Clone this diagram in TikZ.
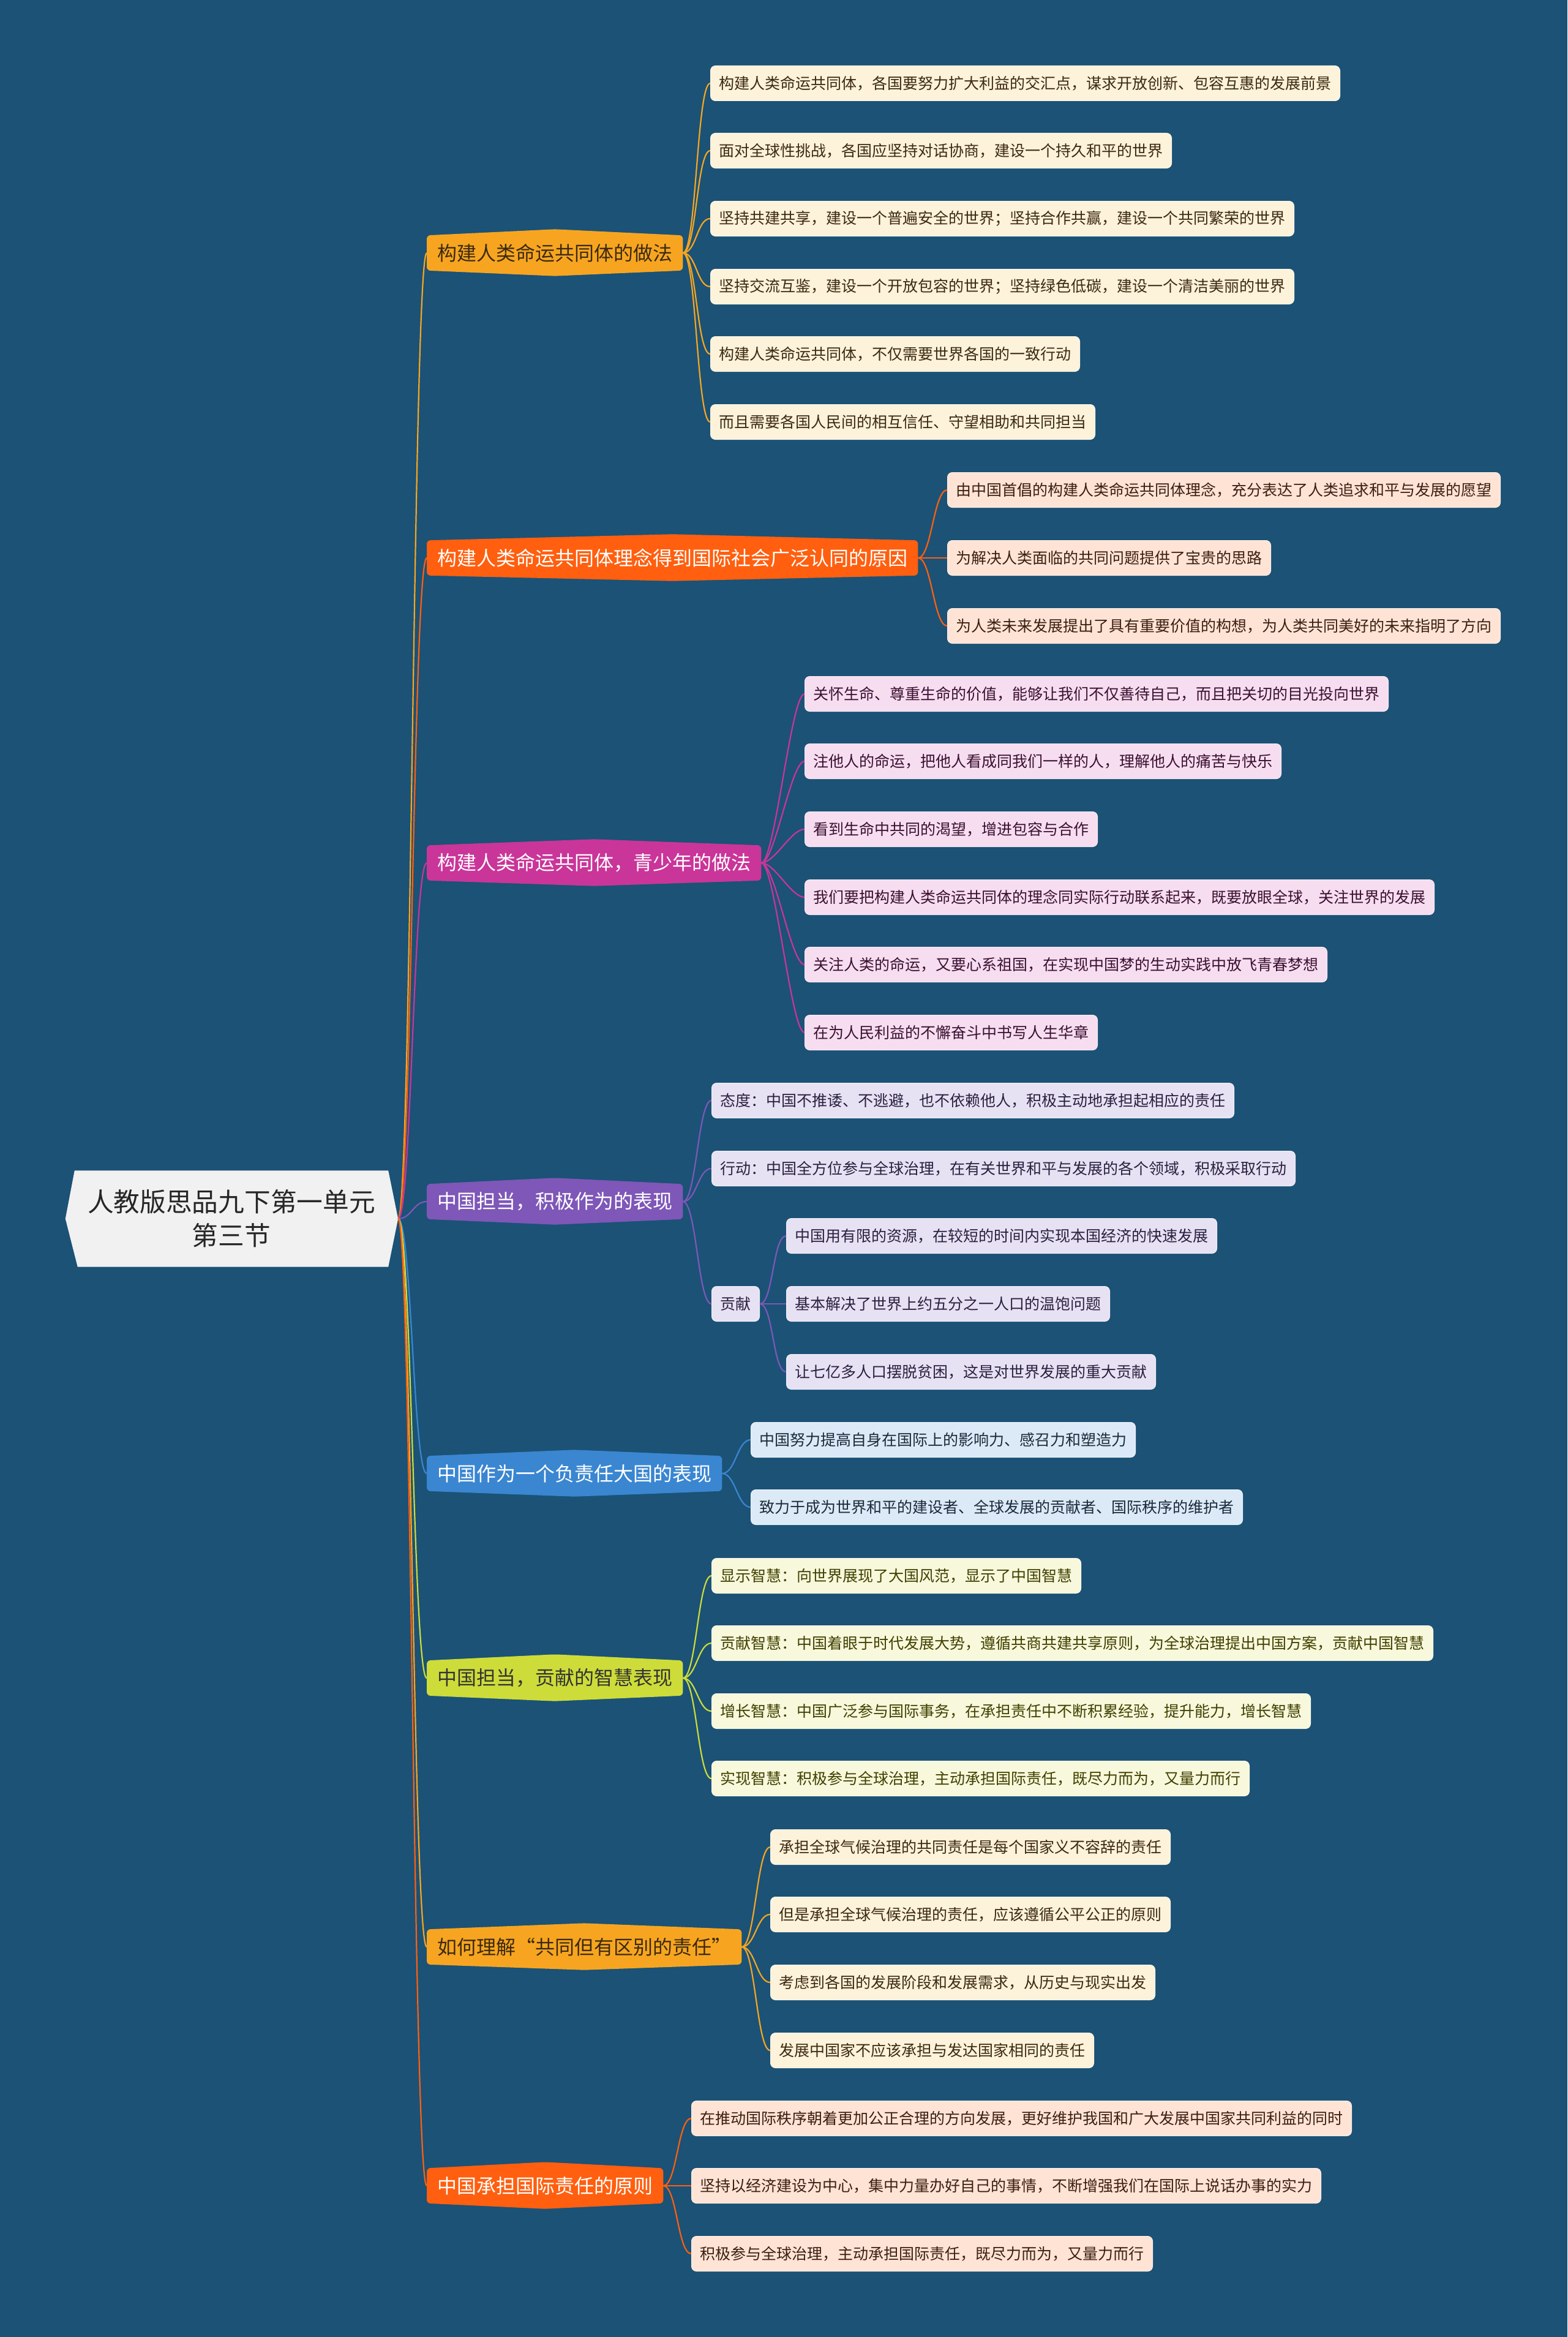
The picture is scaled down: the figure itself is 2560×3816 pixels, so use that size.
\documentclass[tikz,border=0pt]{standalone}
\usepackage{fontspec}
\setmainfont{Noto Sans CJK SC}
\usetikzlibrary{calc}
\definecolor{bgc}{RGB}{27,82,118}
\definecolor{rootfill}{HTML}{F1F1F1}
\definecolor{corange}{HTML}{F7A520}
\definecolor{cred}{HTML}{FF5F0F}
\definecolor{cmag}{HTML}{CA3599}
\definecolor{cpur}{HTML}{7E57B8}
\definecolor{cblue}{HTML}{3A86D1}
\definecolor{clime}{HTML}{CDDC39}
\definecolor{lcream}{HTML}{FDF2DA}
\definecolor{lpeach}{HTML}{FFE4D6}
\definecolor{lpink}{HTML}{F7DDF0}
\definecolor{llav}{HTML}{E7E2F3}
\definecolor{lblue}{HTML}{DCEAF7}
\definecolor{lyel}{HTML}{F8F8DC}
\definecolor{tbrown}{HTML}{3B2A10}
\definecolor{tpeach}{HTML}{3B2010}
\definecolor{tpink}{HTML}{3A1030}
\definecolor{tlav}{HTML}{2A2040}
\definecolor{tblue}{HTML}{1A2A3A}
\definecolor{tolive}{HTML}{404000}
\newcommand\cfont{\fontsize{25pt}{30pt}\selectfont}
\newcommand\mfont{\fontsize{32pt}{38pt}\selectfont}
\newcommand\rfont{\fontsize{42.7pt}{55pt}\selectfont}
\pgfdeclarelayer{shapes}
\pgfsetlayers{shapes,main}
\newcommand\mainshape[2]{%
  \begin{pgfonlayer}{shapes}
  \fill[#2, rounded corners=6pt] (#1.north west) -- ([yshift=10pt]#1.north) -- (#1.north east) -- (#1.south east) -- ([yshift=-9pt]#1.south) -- (#1.south west) -- cycle;
  \end{pgfonlayer}}
\newcommand\conn[3]{\draw[#3, line width=2.2pt] (#1) .. controls ($(#1)+(22,0)$) and ($(#2)+(-22,0)$) .. (#2);}
\tikzset{
  leaf/.style={rounded corners=8pt, minimum height=57pt, inner xsep=14pt, inner ysep=0pt, font=\cfont, anchor=west},
  lA/.style={leaf, fill=lcream, draw=white!40!lcream, line width=1pt, text=tbrown},
  lB/.style={leaf, fill=lpeach, draw=white!40!lpeach, line width=1pt, text=tpeach},
  lC/.style={leaf, fill=lpink, draw=white!40!lpink, line width=1pt, text=tpink},
  lD/.style={leaf, fill=llav, draw=white!40!llav, line width=1pt, text=tlav},
  lE/.style={leaf, fill=lblue, draw=white!40!lblue, line width=1pt, text=tblue},
  lF/.style={leaf, fill=lyel, draw=white!40!lyel, line width=1pt, text=tolive},
  mainnode/.style={minimum height=57pt, inner xsep=17pt, inner ysep=0pt, font=\mfont, anchor=west},
  rootnode/.style={minimum width=512pt, minimum height=157pt, inner sep=0pt, font=\rfont, align=center, text=black!85},
}
\begin{document}
\begin{tikzpicture}[x=1pt,y=-1pt]
\useasboundingbox (0,0) rectangle (2560,3816);
\begin{pgfonlayer}{shapes}
\fill[bgc] (0,0) rectangle (2560,3816);
\end{pgfonlayer}

% root
\node[rootnode] (root) at (378,1990) {人教版思品九下第一单元\\第三节};
\begin{pgfonlayer}{shapes}
\fill[rootfill] (root.north west) -- (root.north east) -- ([xshift=16pt]root.east) -- (root.south east) -- ([xshift=5pt]root.south west) -- ([xshift=-15pt]root.west) -- cycle;
\end{pgfonlayer}
\coordinate (rootR) at ([xshift=16pt]root.east);

% main branches
\node[mainnode, text=tbrown] (b1) at (697,413) {构建人类命运共同体的做法};
\node[mainnode, text=white] (b2) at (697,911) {构建人类命运共同体理念得到国际社会广泛认同的原因};
\node[mainnode, text=white] (b3) at (697,1409) {构建人类命运共同体，青少年的做法};
\node[mainnode, text=white] (b4) at (697,1962) {中国担当，积极作为的表现};
\node[mainnode, text=white] (b5) at (697,2406) {中国作为一个负责任大国的表现};
\node[mainnode, text=black!80] (b6) at (697,2740) {中国担当，贡献的智慧表现};
\node[mainnode, text=tbrown] (b7) at (697,3179) {如何理解“共同但有区别的责任”};
\node[mainnode, text=white] (b8) at (697,3569) {中国承担国际责任的原则};
\mainshape{b1}{corange}
\mainshape{b2}{cred}
\mainshape{b3}{cmag}
\mainshape{b4}{cpur}
\mainshape{b5}{cblue}
\mainshape{b6}{clime}
\mainshape{b7}{corange}
\mainshape{b8}{cred}

\conn{rootR}{b1.west}{corange}
\conn{rootR}{b2.west}{cred}
\conn{rootR}{b3.west}{cmag}
\conn{rootR}{b4.west}{cpur}
\conn{rootR}{b5.west}{cblue}
\conn{rootR}{b6.west}{clime}
\conn{rootR}{b7.west}{corange}
\conn{rootR}{b8.west}{cred}

% branch 1
\node[lA] (a1) at (1160,136) {构建人类命运共同体，各国要努力扩大利益的交汇点，谋求开放创新、包容互惠的发展前景};
\node[lA] (a2) at (1160,246) {面对全球性挑战，各国应坚持对话协商，建设一个持久和平的世界};
\node[lA] (a3) at (1160,357) {坚持共建共享，建设一个普遍安全的世界；坚持合作共赢，建设一个共同繁荣的世界};
\node[lA] (a4) at (1160,468) {坚持交流互鉴，建设一个开放包容的世界；坚持绿色低碳，建设一个清洁美丽的世界};
\node[lA] (a5) at (1160,578) {构建人类命运共同体，不仅需要世界各国的一致行动};
\node[lA] (a6) at (1160,689) {而且需要各国人民间的相互信任、守望相助和共同担当};
\foreach \n in {a1,a2,a3,a4,a5,a6} {\conn{b1.east}{\n.west}{corange}}

% branch 2
\node[lB] (e1) at (1547,800) {由中国首倡的构建人类命运共同体理念，充分表达了人类追求和平与发展的愿望};
\node[lB] (e2) at (1547,911) {为解决人类面临的共同问题提供了宝贵的思路};
\node[lB] (e3) at (1547,1022) {为人类未来发展提出了具有重要价值的构想，为人类共同美好的未来指明了方向};
\foreach \n in {e1,e2,e3} {\conn{b2.east}{\n.west}{cred}}

% branch 3
\node[lC] (m1) at (1314,1133) {关怀生命、尊重生命的价值，能够让我们不仅善待自己，而且把关切的目光投向世界};
\node[lC] (m2) at (1314,1243) {注他人的命运，把他人看成同我们一样的人，理解他人的痛苦与快乐};
\node[lC] (m3) at (1314,1354) {看到生命中共同的渴望，增进包容与合作};
\node[lC] (m4) at (1314,1465) {我们要把构建人类命运共同体的理念同实际行动联系起来，既要放眼全球，关注世界的发展};
\node[lC] (m5) at (1314,1575) {关注人类的命运，又要心系祖国，在实现中国梦的生动实践中放飞青春梦想};
\node[lC] (m6) at (1314,1686) {在为人民利益的不懈奋斗中书写人生华章};
\foreach \n in {m1,m2,m3,m4,m5,m6} {\conn{b3.east}{\n.west}{cmag}}

% branch 4
\node[lD] (p1) at (1162,1797) {态度：中国不推诿、不逃避，也不依赖他人，积极主动地承担起相应的责任};
\node[lD] (p2) at (1162,1908) {行动：中国全方位参与全球治理，在有关世界和平与发展的各个领域，积极采取行动};
\node[lD] (p3) at (1162,2129) {贡献};
\foreach \n in {p1,p2,p3} {\conn{b4.east}{\n.west}{cpur}}
\node[lD] (q1) at (1284,2018) {中国用有限的资源，在较短的时间内实现本国经济的快速发展};
\node[lD] (q2) at (1284,2129) {基本解决了世界上约五分之一人口的温饱问题};
\node[lD] (q3) at (1284,2240) {让七亿多人口摆脱贫困，这是对世界发展的重大贡献};
\foreach \n in {q1,q2,q3} {\conn{p3.east}{\n.west}{cpur}}

% branch 5
\node[lE] (s1) at (1226,2351) {中国努力提高自身在国际上的影响力、感召力和塑造力};
\node[lE] (s2) at (1226,2461) {致力于成为世界和平的建设者、全球发展的贡献者、国际秩序的维护者};
\foreach \n in {s1,s2} {\conn{b5.east}{\n.west}{cblue}}

% branch 6
\node[lF] (w1) at (1162,2573) {显示智慧：向世界展现了大国风范，显示了中国智慧};
\node[lF] (w2) at (1162,2683) {贡献智慧：中国着眼于时代发展大势，遵循共商共建共享原则，为全球治理提出中国方案，贡献中国智慧};
\node[lF] (w3) at (1162,2794) {增长智慧：中国广泛参与国际事务，在承担责任中不断积累经验，提升能力，增长智慧};
\node[lF] (w4) at (1162,2904) {实现智慧：积极参与全球治理，主动承担国际责任，既尽力而为，又量力而行};
\foreach \n in {w1,w2,w3,w4} {\conn{b6.east}{\n.west}{clime}}

% branch 7
\node[lA] (r1) at (1258,3016) {承担全球气候治理的共同责任是每个国家义不容辞的责任};
\node[lA] (r2) at (1258,3126) {但是承担全球气候治理的责任，应该遵循公平公正的原则};
\node[lA] (r3) at (1258,3237) {考虑到各国的发展阶段和发展需求，从历史与现实出发};
\node[lA] (r4) at (1258,3348) {发展中国家不应该承担与发达国家相同的责任};
\foreach \n in {r1,r2,r3,r4} {\conn{b7.east}{\n.west}{corange}}

% branch 8
\node[lB] (z1) at (1129,3459) {在推动国际秩序朝着更加公正合理的方向发展，更好维护我国和广大发展中国家共同利益的同时};
\node[lB] (z2) at (1129,3569) {坚持以经济建设为中心，集中力量办好自己的事情，不断增强我们在国际上说话办事的实力};
\node[lB] (z3) at (1129,3680) {积极参与全球治理，主动承担国际责任，既尽力而为，又量力而行};
\foreach \n in {z1,z2,z3} {\conn{b8.east}{\n.west}{cred}}
\end{tikzpicture}
\end{document}
